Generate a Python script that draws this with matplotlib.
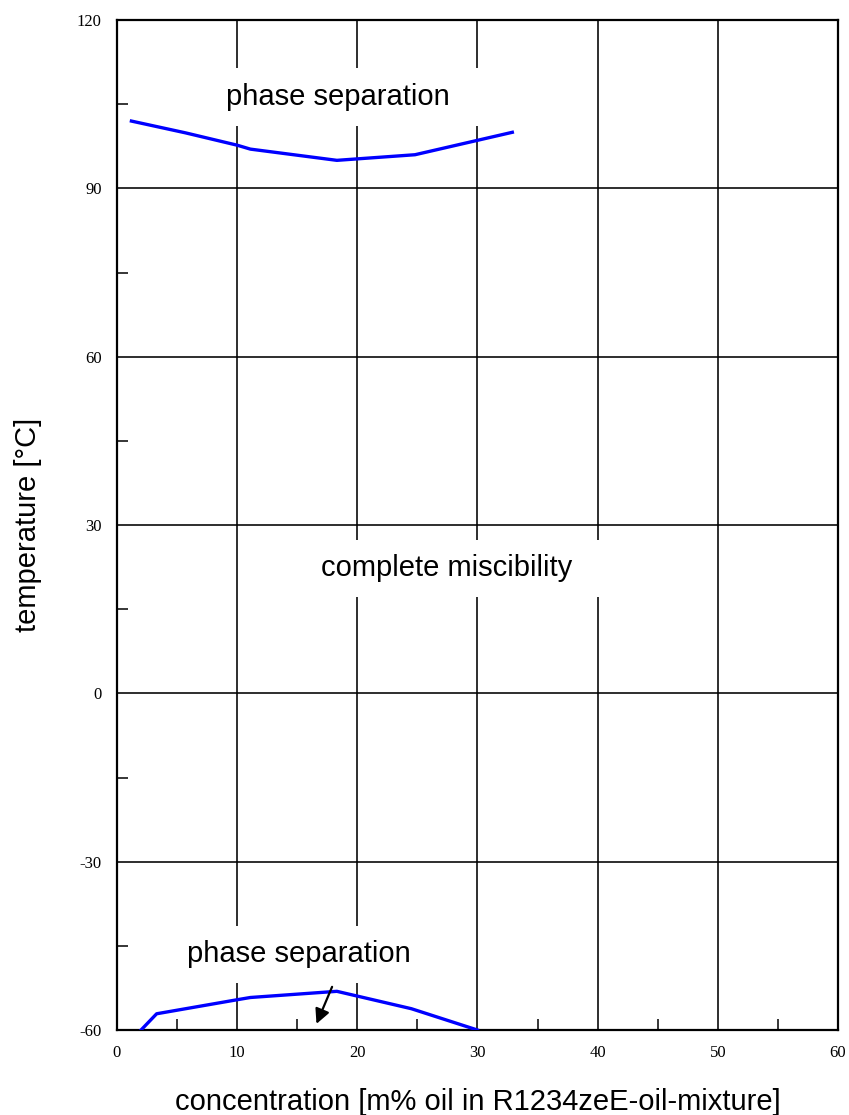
import matplotlib.pyplot as plt
from matplotlib.path import Path
from matplotlib.ticker import MultipleLocator

plt.rcParams['axes.unicode_minus'] = False

# Data
upper_conc = [1.2, 5.7, 10.0, 11.1, 18.3, 24.8, 32.9]
upper_temp = [102.0, 99.9, 97.7, 97.0, 95.0, 96.0, 100.0]

lower_conc = [2.0, 3.3, 10.0, 11.1, 18.3, 24.5, 30.0]
lower_temp = [-60.0, -57.1, -54.6, -54.2, -53.1, -56.2, -60.0]

x_ticks = [0, 10, 20, 30, 40, 50, 60]
y_ticks = [-60, -30, 0, 30, 60, 90, 120]


def label_box(padx, pady):
    # white box behind a label, with separate x / y padding (in font sizes)
    def box(x0, y0, width, height, mutation_size):
        px, py = padx * mutation_size, pady * mutation_size
        x0, y0 = x0 - px, y0 - py
        x1, y1 = x0 + width + 2 * px, y0 + height + 2 * py
        return Path([(x0, y0), (x1, y0), (x1, y1), (x0, y1), (x0, y0)], closed=True)
    return box


sans = "Liberation Sans"
serif = "Liberation Serif"

fig = plt.figure(figsize=(8.49, 11.15), dpi=100)
ax = fig.add_axes([0.1378, 0.0762, 0.8492, 0.9058])

ax.plot(upper_conc, upper_temp, color="#0000ff", lw=2.4, zorder=4)
ax.plot(lower_conc, lower_temp, color="#0000ff", lw=2.4, zorder=4)

ax.set_xlim(0, 60)
ax.set_ylim(-60, 120)
ax.set_xticks(x_ticks)
ax.set_yticks(y_ticks)
ax.xaxis.set_minor_locator(MultipleLocator(5))
ax.yaxis.set_minor_locator(MultipleLocator(15))
ax.tick_params(which="major", length=0, pad=11)
ax.tick_params(which="minor", direction="in", length=8, width=1.1)
for lab in ax.get_xticklabels() + ax.get_yticklabels():
    lab.set_family(serif)
    lab.set_fontsize(12)

ax.grid(True, which="major", color="black", lw=1.15)
for sp in ax.spines.values():
    sp.set_linewidth(1.6)

txt = dict(fontsize=21, family=sans, ha="center", va="center", zorder=3)
ax.text(18.4, 106.3, "phase separation",
        bbox=dict(boxstyle=label_box(1.2, 0.5), fc="white", ec="none"), **txt)
ax.text(27.4, 22.3, "complete miscibility",
        bbox=dict(boxstyle=label_box(2.7, 0.5), fc="white", ec="none"), **txt)
ax.text(15.1, -46.5, "phase separation",
        bbox=dict(boxstyle=label_box(1.2, 0.5), fc="white", ec="none"), **txt)

ax.annotate("", xy=(16.6, -58.9), xytext=(17.9, -52.3),
            arrowprops=dict(arrowstyle="-|>", color="black", lw=1.6,
                            mutation_scale=22, shrinkA=0, shrinkB=0),
            zorder=5)

ax.set_xlabel("concentration [m% oil in R1234zeE-oil-mixture]", fontsize=21, family=sans)
ax.set_ylabel("temperature [°C]", fontsize=21, family=sans)
ax.xaxis.set_label_coords(0.5, -0.057)
ax.yaxis.set_label_coords(-0.104, 0.5)

fig.savefig("out.png", dpi=100)
